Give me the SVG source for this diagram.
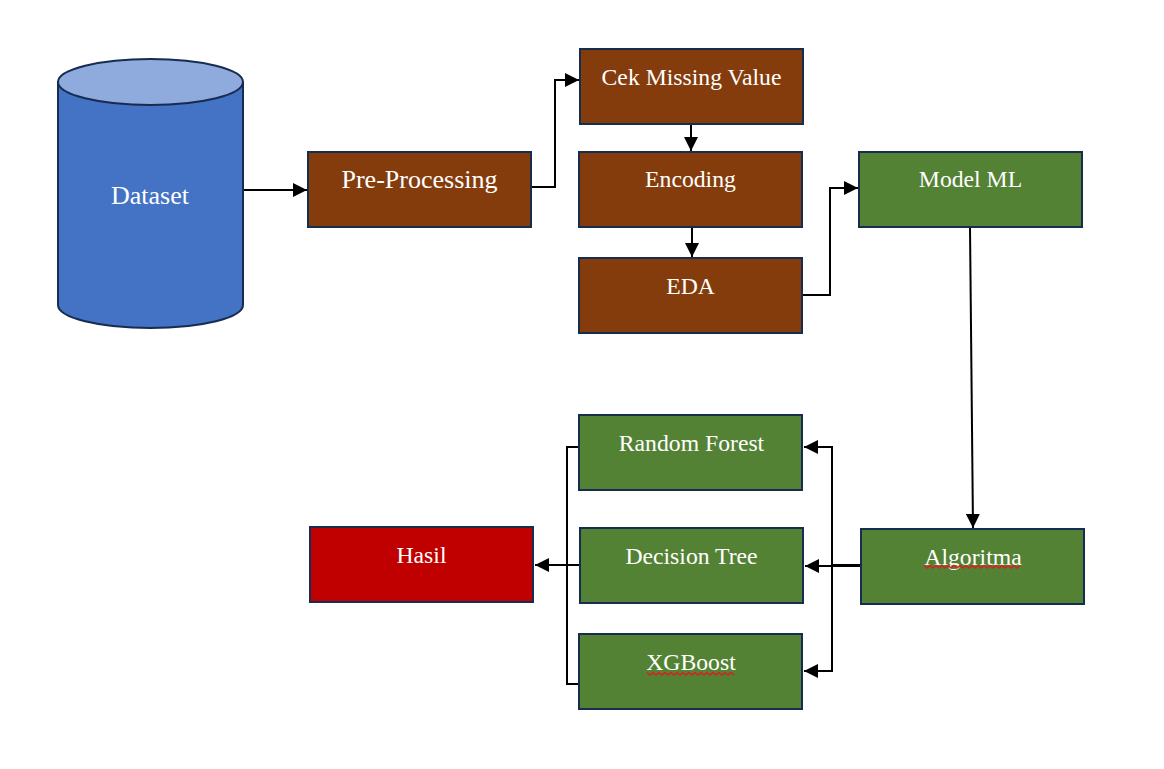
<svg xmlns="http://www.w3.org/2000/svg" width="1164" height="769" viewBox="0 0 1164 769">
<style>
.b{stroke:#172c51;stroke-width:2}
.br{fill:#843c0c}
.gr{fill:#548235}
.rd{fill:#c00000}
text{font-family:"Liberation Serif","Times New Roman",serif;font-size:23.7px;fill:#fff;text-anchor:middle}
.l{font-size:26px}
.c{fill:none;stroke:#000;stroke-width:2}
.sq{fill:none;stroke:#d8201c;stroke-width:1.5}
</style>
<defs>
<marker id="a" markerUnits="userSpaceOnUse" markerWidth="14" markerHeight="14" refX="14" refY="7" orient="auto"><path d="M0 0L14 7L0 14Z" fill="#000"/></marker>
</defs>
<rect width="1164" height="769" fill="#fff"/>
<g id="connectors">
<path class="c" d="M243 190H307" marker-end="url(#a)"/>
<path class="c" d="M531 187H555V80H579" marker-end="url(#a)"/>
<path class="c" d="M691 124V151" marker-end="url(#a)"/>
<path class="c" d="M692 227V257" marker-end="url(#a)"/>
<path class="c" d="M803 295H830V188H858" marker-end="url(#a)"/>
<path class="c" d="M970 227L973 528" marker-end="url(#a)"/>
<path class="c" d="M861 565H832V447H804" marker-end="url(#a)"/>
<path class="c" d="M861 566H805" marker-end="url(#a)"/>
<path class="c" d="M861 566H832V671H804" marker-end="url(#a)"/>
<path class="c" d="M579 447H567V684H579"/>
<path class="c" d="M580 565H535" marker-end="url(#a)"/>
</g>
<g id="dataset">
<path class="b" fill="#4472c4" d="M58 82V305C58 317.700 99.200 328 150.500 328S243 317.700 243 305V82Z"/>
<ellipse class="b" cx="150.500" cy="82" rx="92.500" ry="23" fill="#8faadc"/>
<text class="l" x="150" y="204">Dataset</text>
</g>
<g id="preprocessing"><rect class="b br" x="308" y="152" width="223" height="75"/><text class="l" x="419.500" y="188">Pre-Processing</text></g>
<g id="missing"><rect class="b br" x="580" y="49" width="223" height="75"/><text x="691.500" y="85">Cek Missing Value</text></g>
<g id="encoding"><rect class="b br" x="579" y="152" width="223" height="75"/><text x="690.500" y="187">Encoding</text></g>
<g id="eda"><rect class="b br" x="579" y="258" width="223" height="75"/><text x="690.500" y="294">EDA</text></g>
<g id="model"><rect class="b gr" x="859" y="152" width="223" height="75"/><text x="970.500" y="187">Model ML</text></g>
<g id="rf"><rect class="b gr" x="579" y="415" width="223" height="75"/><text x="691.500" y="451">Random Forest</text></g>
<g id="dt"><rect class="b gr" x="580" y="528" width="223" height="75"/><text x="691.500" y="564">Decision Tree</text></g>
<g id="xgb"><rect class="b gr" x="579" y="634" width="223" height="75"/><text x="691" y="670">XGBoost</text>
<path class="sq" d="M647 672.500l3 2.500l3-2.500l3 2.500l3-2.500l3 2.500l3-2.500l3 2.500l3-2.500l3 2.500l3-2.500l3 2.500l3-2.500l3 2.500l3-2.500l3 2.500l3-2.500l3 2.500l3-2.500l3 2.500l3-2.500l3 2.500l3-2.500l3 2.500l3-2.500l3 2.500l3-2.500l3 2.500l3-2.500l3 2.500"/></g>
<g id="algoritma"><rect class="b gr" x="861" y="529" width="223" height="75"/><text x="973" y="565">Algoritma</text>
<path class="sq" d="M924 565.500l3 2.500l3-2.500l3 2.500l3-2.500l3 2.500l3-2.500l3 2.500l3-2.500l3 2.500l3-2.500l3 2.500l3-2.500l3 2.500l3-2.500l3 2.500l3-2.500l3 2.500l3-2.500l3 2.500l3-2.500l3 2.500l3-2.500l3 2.500l3-2.500l3 2.500l3-2.500l3 2.500l3-2.500l3 2.500l3-2.500l3 2.500l3-2.500"/></g>
<g id="hasil"><rect class="b rd" x="310" y="527" width="223" height="75"/><text x="421.500" y="563">Hasil</text></g>
</svg>
